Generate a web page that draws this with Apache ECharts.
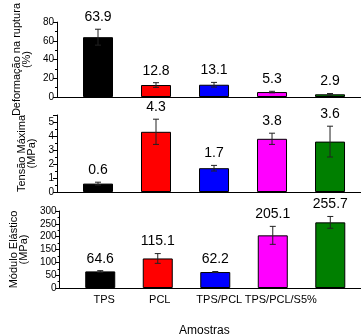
<!DOCTYPE html>
<html lang="pt">
<head>
    <meta charset="UTF-8">
    <title>Propriedades mecânicas</title>
    <script src="https://cdn.jsdelivr.net/npm/echarts@6/dist/echarts.min.js"></script>
    <style>
        html,body{margin:0;padding:0;background:#fff;}
    </style>
</head>
<body>
    <div id="chart1" style="width:361px;height:336px;"></div>
    <script>
        var myCharts=echarts.init(document.getElementById("chart1"))

        var amostras=["TPS","PCL","TPS/PCL","TPS/PCL/S5%",""]
        var cores=["#000000","#ff0000","#0000ff","#ff00ff","#007f00"]

        // Deformação na ruptura (%)
        var deformacao=[63.9,12.8,13.1,5.3,2.9]
        var deformacaoErro=[8.5,2.5,2.5,0.8,0.8]
        // Tensão máxima (MPa)
        var tensao=[0.6,4.3,1.7,3.8,3.6]
        var tensaoErro=[0.1,0.9,0.2,0.4,1.1]
        // Módulo elástico (MPa)
        var modulo=[64.6,115.1,62.2,205.1,255.7]
        var moduloErro=[3,19,2,35,23]

        var fonte="Liberation Sans"
        var idx=[0,1,2,3,4]
        // deslocamento dos rótulos das amostras (o original não estava centrado)
        var recuo=[8,4,8,16,0]

        function barras(vals,g){
            return {
                type:"bar",
                xAxisIndex:g,
                yAxisIndex:g,
                barWidth:30,
                data:vals.map(function(v,i){
                    return {value:[i,v],itemStyle:{color:cores[i]}}
                }),
                itemStyle:{borderColor:"#000",borderWidth:1}
            }
        }
        function erros(vals,errs,g){
            return {
                type:"custom",
                xAxisIndex:g,
                yAxisIndex:g,
                z:5,
                data:vals.map(function(v,i){return [i,v,errs[i]]}),
                renderItem:function(params,api){
                    var x=api.value(0),y=api.value(1),e=api.value(2)
                    var t=api.coord([x,y+e]),b=api.coord([x,y-e])
                    var s={stroke:"#222",lineWidth:1}
                    return {
                        type:"group",
                        children:[
                            {type:"line",shape:{x1:t[0],y1:t[1],x2:b[0],y2:b[1]},style:s},
                            {type:"line",shape:{x1:t[0]-3,y1:t[1],x2:t[0]+3,y2:t[1]},style:s},
                            {type:"line",shape:{x1:b[0]-3,y1:b[1],x2:b[0]+3,y2:b[1]},style:s},
                            {type:"text",x:t[0],y:t[1]-12,style:{
                                text:y.toFixed(1),fill:"#000",font:"14px "+fonte,
                                align:"center",verticalAlign:"middle"}}
                        ]
                    }
                }
            }
        }
        function eixoX(g,mostrar){
            var rich={}
            recuo.forEach(function(p,i){rich["r"+i]={padding:[0,0,0,p],fontFamily:fonte,fontSize:11,color:"#000"}})
            return {
                type:"value",
                gridIndex:g,
                min:-0.707,
                max:4.534,
                axisLine:{show:true,onZero:false,lineStyle:{color:"#000",width:1}},
                axisTick:{show:false},
                splitLine:{show:false},
                axisLabel:mostrar?{
                    show:true,
                    customValues:idx,
                    formatter:function(v){
                        var i=Math.round(v)
                        return amostras[i]?"{r"+i+"|"+amostras[i]+"}":""
                    },
                    rich:rich,
                    color:"#000",fontFamily:fonte,fontSize:11,margin:6
                }:{show:false}
            }
        }
        function eixoY(g,nome,max,intervalo){
            return {
                type:"value",
                gridIndex:g,
                min:0,
                max:max,
                interval:intervalo,
                name:nome,
                nameLocation:"middle",
                nameRotate:90,
                nameGap:12,
                nameTextStyle:{color:"#000",fontFamily:fonte,fontSize:11,lineHeight:10},
                axisLine:{show:true,onZero:false,lineStyle:{color:"#000",width:1}},
                axisTick:{show:true,length:4,lineStyle:{color:"#000"}},
                minorTick:{show:true,splitNumber:2,length:2,lineStyle:{color:"#000"}},
                splitLine:{show:false},
                axisLabel:{color:"#000",fontFamily:fonte,fontSize:10,margin:3,showMaxLabel:max%intervalo===0}
            }
        }

        var option={
            animation:false,
            title:{
                text:"Amostras",
                left:174,
                top:320,
                textStyle:{color:"#000",fontFamily:fonte,fontSize:12,fontWeight:"normal"}
            },
            grid:[
                {left:57,right:0,top:20,height:77},
                {left:57,right:0,top:115,height:77},
                {left:57,right:0,top:211,height:77}
            ],
            xAxis:[eixoX(0,false),eixoX(1,false),eixoX(2,true)],
            yAxis:[
                eixoY(0,"Deformação na ruptura\n(%)",80,20),
                eixoY(1,"Tensão Máxima\n(MPa)",5.5,1),
                eixoY(2,"Módulo Elástico\n(MPa)",300,50)
            ],
            series:[
                barras(deformacao,0),erros(deformacao,deformacaoErro,0),
                barras(tensao,1),erros(tensao,tensaoErro,1),
                barras(modulo,2),erros(modulo,moduloErro,2)
            ]
        }
        myCharts.setOption(option)
    </script>
</body>
</html>
